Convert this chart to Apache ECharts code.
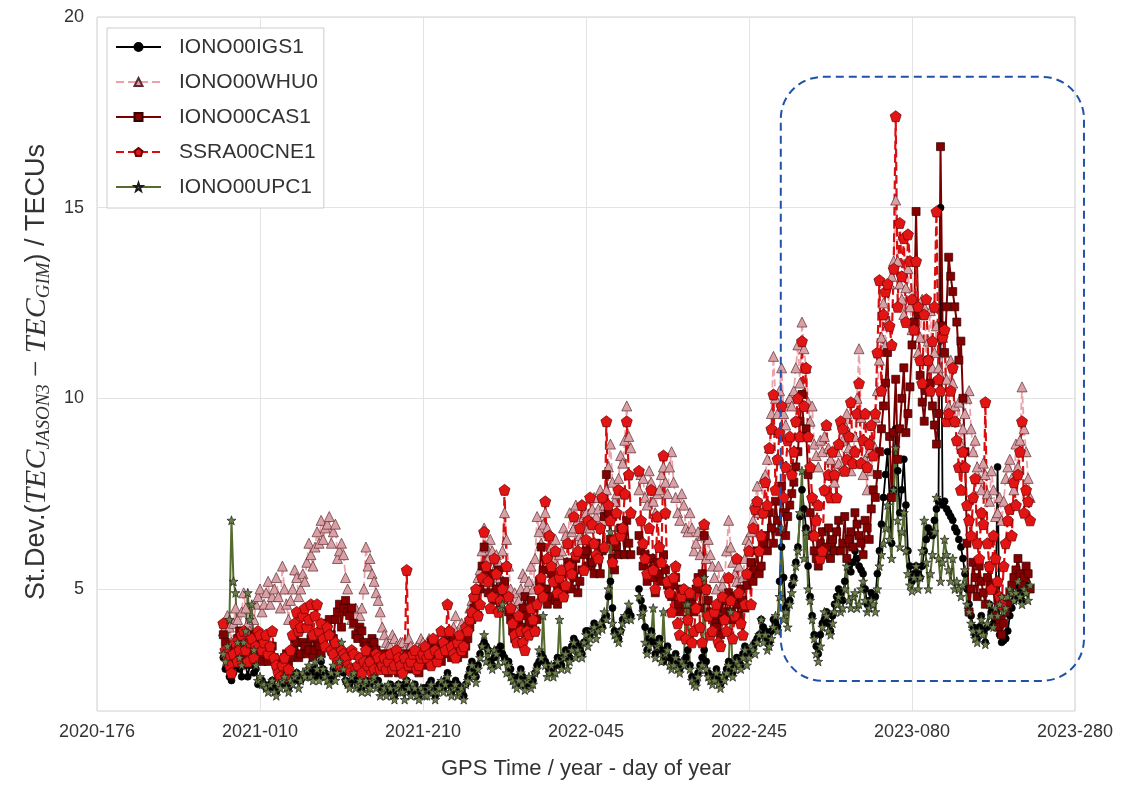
<!DOCTYPE html>
<html><head><meta charset="utf-8">
<script src="https://cdn.jsdelivr.net/npm/echarts@6/dist/echarts.min.js"></script>
<style>html,body{margin:0;padding:0;background:#fff}#c{width:1140px;height:785px}</style>
</head><body><div id="c"></div>
<script>
// ---- axis ticks ----
const xTickLabels = ['2020-176','2021-010','2021-210','2022-045','2022-245','2023-080','2023-280'];
const xTickStep = 200;           // days between x ticks (axis value = days after 2020-176)
const yTickValues = [5, 10, 15, 20];
// ---- sampling of the series (days after 2020-176) ----
const firstSampleDay = 155;      // 2020-331
const sampleStepDays = 5;        // main samples; the "Mid" arrays hold the samples 2.5 days later

const seriesNames = ['IONO00IGS1','IONO00WHU0','IONO00CAS1','SSRA00CNE1','IONO00UPC1'];

const igs1 = [
3.2,3.1,2.6,3.0,2.9,3.3,2.7,3.1,2.9,2.6, 2.5,2.4,2.6,2.3,2.5,2.7,2.4,2.6,2.8,2.6,
2.7,2.9,2.7,2.8,3.1,2.8,2.6,2.9,2.8,3.1, 2.6,2.5,2.7,2.5,2.4,2.6,2.5,2.7,2.6,2.4,
2.3,2.5,2.2,2.5,2.4,2.6,2.3,2.5,2.2,2.4, 2.3,2.6,2.2,2.5,2.4,2.8,2.3,2.6,2.4,2.2,
2.7,3.1,2.7,3.3,3.6,3.4,3.0,3.4,3.5,3.2, 3.1,2.7,2.5,2.9,2.45,2.6,2.6,3.0,3.3,3.1,
2.9,2.8,3.2,3.0,3.4,3.2,3.7,3.5,3.3,3.9, 3.8,4.1,3.95,4.0,4.3,5.2,3.9,3.7,4.2,4.3,
4.3,null,5.0,4.5,3.4,3.9,3.3,3.7,3.1,3.5, 3.0,3.3,2.9,3.1,3.4,2.7,2.55,3.0,3.4,2.8,
2.6,2.9,2.5,2.7,3.1,2.8,3.2,3.0,3.5,3.3, 3.5,3.7,4.2,3.9,3.6,4.2,4.0,6.1,4.5,4.7,
5.3,6.1,7.6,6.6,4.8,3.8,3.3,4.1,4.4,3.9, 4.6,5.0,4.7,5.8,5.45,6.0,5.6,5.4,4.6,4.9,
4.8,6.0,7.4,8.6,6.2,9.2,7.0,8.4,6.0,5.2, 5.6,5.3,6.0,6.6,6.4,7.1,15.0,7.3,7.0,6.8,
6.5,6.1,5.4,4.6,4.0,3.7,4.3,3.6,4.6,4.1, 8.2,3.6,3.7,4.3,4.7,5.1,4.7,5.1,5.0];
const igs1Mid = [
2.9,2.7,2.8,3.2,2.7,3.0,3.0,2.8,2.5,2.6, 2.4,2.5,2.4,2.4,2.6,2.5,2.5,2.7,2.6,2.7,
2.8,2.8,2.9,2.7,2.9,2.7,2.7,2.8,3.0,2.8, 2.5,2.6,2.6,2.4,2.5,2.5,2.6,2.6,2.4,2.3,
2.4,2.3,2.4,2.4,2.5,2.4,2.4,2.3,2.3,2.4, 2.5,2.4,2.4,2.5,2.6,2.5,2.5,2.5,2.3,2.5,
2.9,2.8,3.0,3.5,3.5,3.1,3.2,3.4,3.3,3.1, 2.9,2.6,2.7,2.7,2.5,2.6,2.8,3.1,3.2,3.0,
2.8,3.0,3.1,3.2,3.3,3.5,3.6,3.4,3.6,3.9, 3.9,4.0,4.0,4.2,4.8,4.5,3.8,3.9,4.2,4.4,
null,null,4.7,4.0,3.7,3.6,3.5,3.4,3.3,3.2, 3.1,3.1,3.0,3.2,3.0,2.6,2.8,3.2,3.1,2.7,
2.7,2.7,2.6,2.9,3.0,3.0,3.1,3.3,3.4,3.4, 3.6,3.8,4.0,3.7,3.9,4.1,5.2,5.3,4.6,5.1,
5.7,6.9,7.1,5.6,4.3,3.5,3.8,4.2,4.1,4.3, 4.8,4.9,5.2,5.6,5.7,5.8,5.5,5.0,4.7,4.8,
5.4,6.7,8.0,7.4,7.6,8.1,7.6,7.2,5.6,5.4, 5.4,5.6,6.3,6.5,6.8,7.3,7.2,7.1,6.9,6.6,
6.3,5.8,5.0,4.3,3.8,4.0,3.9,4.0,4.4,4.4, 3.8,3.65,3.9,4.5,4.8,4.9,4.9,5.0];

const whu0 = [
3.9,4.3,3.6,4.5,3.8,4.9,4.1,3.7,4.6,5.0, 4.6,5.2,4.8,5.3,4.5,5.0,4.2,5.0,5.3,5.0,
5.2,6.2,5.6,6.5,6.8,6.6,6.9,6.5,5.8,6.2, 5.3,4.5,4.1,3.9,4.5,6.1,5.8,5.2,4.7,4.0,
3.6,3.5,3.7,3.4,3.6,3.3,3.5,3.2,3.4,3.6, 3.4,3.6,3.3,3.8,3.5,3.9,3.6,4.3,3.8,3.7,
4.2,4.7,5.0,5.5,6.6,5.8,6.0,5.9,5.3,7.0, 5.6,4.6,4.4,5.0,5.3,5.2,5.0,6.9,6.2,7.0,
6.4,5.8,5.6,6.0,6.4,7.0,6.6,6.8,6.3,7.0, 6.6,7.4,7.1,6.8,7.6,8.8,7.3,7.9,8.3,9.8,
8.7,null,7.6,7.9,7.2,7.8,7.0,7.6,8.2,7.5, 8.6,7.4,6.8,7.2,6.5,6.6,6.2,5.9,6.7,6.3,
5.6,5.0,4.8,5.3,6.8,5.7,5.2,4.9,5.8,6.2, 6.8,7.7,7.2,8.0,8.7,11.1,9.6,10.8,9.3,10.0,
10.2,11.4,12.0,10.8,9.4,8.8,8.2,8.6,9.3,8.4, 7.8,8.3,8.9,9.6,8.1,9.0,11.3,8.0,7.6,8.1,
9.5,11.0,12.5,12.0,13.2,15.2,13.0,12.2,13.4,11.8, 12.2,11.6,12.4,11.5,10.8,11.9,10.6,11.2,9.8,10.4,
9.4,8.8,9.6,10.2,8.6,8.2,7.6,8.0,7.3,7.6, 7.0,6.8,7.9,8.4,7.6,8.2,10.3,8.6,7.4];
const whu0Mid = [
4.0,4.0,4.1,4.2,4.4,4.5,3.9,4.2,4.8,4.4, 4.9,4.6,5.0,4.8,5.6,4.6,4.7,5.5,4.8,5.4,
5.7,5.9,6.1,6.2,6.3,6.7,6.2,6.7,6.0,5.9, 5.0,4.2,4.5,4.3,5.0,5.6,5.4,4.9,4.4,3.8,
3.5,3.8,3.5,3.6,3.4,3.7,3.3,3.5,3.7,3.5, 3.7,3.4,3.6,3.6,3.8,3.5,4.0,3.6,4.1,4.0,
4.5,4.4,5.3,6.0,6.1,6.3,5.5,5.7,6.0,6.3, 5.0,4.9,4.7,5.4,5.0,5.6,5.8,6.5,6.7,6.6,
6.1,6.3,5.9,6.6,6.2,6.5,7.2,6.4,6.9,6.6, 7.1,6.9,7.6,7.2,8.2,7.8,7.5,8.5,8.9,9.0,
null,null,8.0,7.4,8.1,7.3,7.5,8.0,7.8,8.2, 7.8,7.0,7.5,6.6,7.0,6.0,6.5,6.4,5.8,5.9,
5.3,5.6,5.1,6.0,6.1,5.4,5.6,5.3,6.3,6.5, 7.3,7.0,7.9,8.4,9.6,10.0,10.2,9.6,9.9,9.8,
10.8,10.4,11.3,9.9,9.8,8.5,8.9,9.0,8.7,8.0, 8.6,8.1,9.3,8.7,8.6,10.0,9.5,8.4,8.6,8.8,
10.2,11.6,11.4,13.0,13.6,13.6,12.6,12.9,12.4,12.6, 11.2,12.6,11.0,12.3,11.2,10.8,11.6,10.5,11.0,9.8,
9.9,9.2,10.0,9.2,8.9,7.9,8.3,7.5,8.1,6.9, 7.4,7.3,8.2,7.9,8.8,8.9,9.2,7.9];

const cas1 = [
3.8,3.4,3.2,3.5,3.9,3.3,3.6,3.4,3.7,3.5, 3.3,3.1,3.5,3.0,2.9,3.2,3.0,3.4,3.6,3.3,
3.5,3.4,3.2,3.6,3.3,3.9,4.2,3.7,4.4,4.0, 4.7,4.3,4.1,3.7,3.9,3.5,3.3,3.6,3.2,3.0,
3.1,2.9,3.2,2.8,3.0,3.3,2.9,3.1,2.8,3.0, 3.2,3.6,3.1,3.4,3.3,3.8,3.2,3.5,3.4,3.3,
3.7,4.2,4.6,5.0,6.1,4.9,5.4,5.0,4.6,5.2, 4.4,3.9,3.6,4.0,4.8,4.1,4.5,4.2,6.1,5.0,
4.8,5.2,4.6,5.4,5.0,5.6,5.3,4.9,5.5,6.0, 6.2,5.4,5.8,6.0,8.0,6.3,5.5,5.9,6.4,6.8,
5.9,null,6.4,5.6,5.2,5.8,4.9,5.4,5.9,5.1, 4.8,5.3,4.4,4.9,4.2,4.6,5.0,4.5,6.4,4.7,
4.3,4.0,3.8,4.4,4.9,4.2,4.6,5.0,4.5,5.4, 5.2,6.0,5.6,6.4,7.0,6.2,6.8,7.7,6.4,7.2,
7.8,8.6,10.1,9.2,7.0,6.0,5.6,6.5,6.1,5.8, 6.0,6.8,6.2,5.8,6.5,7.0,6.4,5.9,6.6,7.1,
7.4,8.6,9.8,11.2,7.4,10.5,9.2,10.8,9.6,11.4, 14.9,10.6,9.4,11.0,9.8,8.8,16.6,11.2,13.7,12.8,
12.0,11.5,8.6,4.4,5.7,4.8,5.2,4.6,5.6,5.0, 4.0,3.8,4.4,4.9,5.3,5.8,5.1,5.6,5.0];
const cas1Mid = [
3.6,3.1,3.4,3.7,3.5,3.2,3.5,3.8,3.3,3.1, 3.5,3.3,3.2,2.8,3.1,3.3,3.2,3.7,3.2,3.6,
3.3,3.7,3.4,3.5,3.7,4.1,3.8,4.2,4.6,4.5, 4.4,4.5,3.8,4.0,3.6,3.4,3.7,3.4,3.1,3.3,
2.8,3.1,3.0,3.1,3.2,3.0,3.3,2.9,3.2,3.1, 3.4,3.3,3.5,3.1,3.6,3.4,3.7,3.2,3.6,3.5,
4.0,4.5,4.3,5.6,5.5,5.2,4.7,5.5,4.9,4.8, 4.2,3.7,4.2,4.5,4.3,4.7,3.9,5.2,5.5,4.6,
5.4,4.7,5.1,4.8,5.7,5.0,5.8,5.2,5.9,5.6, 5.7,6.2,5.4,6.9,7.0,5.8,6.1,6.6,5.9,6.2,
null,null,6.0,5.9,5.5,5.3,5.7,5.2,5.5,4.9, 5.1,4.6,5.0,4.6,4.8,4.4,5.3,5.4,5.0,4.4,
4.1,4.5,4.2,4.7,4.4,4.8,4.3,4.7,5.1,5.7, 5.5,5.4,6.2,6.0,6.6,7.3,6.5,7.0,6.9,7.5,
8.2,9.4,9.0,8.0,6.4,5.8,6.2,5.9,6.6,6.3, 6.5,6.0,6.9,6.3,6.1,6.7,6.2,6.8,6.3,7.6,
8.0,9.2,10.4,9.0,9.1,8.4,10.0,9.1,10.3,12.0, 12.2,9.9,10.2,10.4,9.3,9.6,11.9,12.4,13.2,12.4,
11.0,10.0,6.2,5.0,5.3,5.6,4.9,5.3,5.1,4.3, 4.2,4.1,4.6,5.1,5.5,5.4,5.3,5.4];

const cne1 = [
4.1,3.2,2.8,3.6,3.4,3.9,3.1,3.7,3.5,3.8, 3.6,3.3,3.9,3.0,2.7,3.2,2.9,3.8,4.4,4.0,
4.5,4.2,3.8,4.6,4.1,3.5,3.8,3.3,3.1,3.4, 3.2,2.9,3.3,3.0,2.8,3.4,3.1,2.9,3.2,3.0,
2.9,3.3,3.0,3.2,2.8,5.5,3.1,3.4,3.0,3.3, 3.2,3.0,3.4,3.3,3.6,4.6,3.5,3.2,3.8,3.5,
3.9,4.4,5.0,4.6,6.5,5.2,4.8,5.4,4.7,7.6, 4.8,4.1,3.6,3.9,3.4,3.8,4.2,4.6,5.3,7.3,
6.4,5.2,4.9,5.5,5.1,5.6,6.9,6.0,7.2,6.3, 7.4,6.2,5.8,7.4,9.4,6.8,6.3,7.6,6.6,9.4,
7.0,null,8.1,6.2,5.4,7.6,5.0,6.1,8.5,5.2, 4.4,5.6,3.8,5.0,4.2,3.6,4.5,4.0,6.7,4.3,
3.9,4.6,3.5,4.2,5.3,3.7,5.8,4.1,4.6,6.0, 6.6,7.3,6.4,7.8,8.7,10.1,8.4,9.8,8.2,9.0,
8.6,10.0,11.5,10.8,8.2,6.4,7.2,6.0,9.3,7.4, 8.0,8.8,9.2,8.4,9.9,8.6,10.4,8.9,8.2,9.3,
9.6,13.1,12.2,13.0,11.4,17.4,14.6,14.2,14.3,12.6, 13.6,11.0,12.2,11.0,11.5,14.9,10.2,11.8,9.6,10.8,
8.9,7.6,8.2,6.8,7.4,6.2,7.0,9.9,5.6,6.4, 5.2,4.6,6.2,7.1,7.8,8.0,9.4,7.6,6.8];
const cne1Mid = [
3.4,3.0,3.3,3.1,3.8,3.4,3.6,3.2,3.9,3.4, 3.8,3.5,3.2,2.8,3.0,2.7,3.4,4.1,3.9,4.3,
4.0,4.6,4.3,3.9,3.7,4.0,3.4,3.6,3.0,3.3, 3.0,3.4,2.9,3.2,3.1,3.0,2.8,3.3,2.9,3.2,
3.1,2.9,3.4,3.0,3.2,3.0,3.3,2.9,3.2,3.5, 3.3,3.7,3.1,3.9,3.4,3.9,3.3,3.6,3.4,4.0,
4.2,4.8,4.3,5.3,5.6,4.5,5.8,4.4,5.0,5.6, 4.5,3.8,4.3,3.6,3.9,4.5,3.9,5.0,4.8,5.8,
5.6,6.0,5.3,4.8,6.2,5.4,5.9,6.6,5.5,6.8, 6.7,5.9,6.6,6.1,7.2,5.7,7.0,6.4,7.5,8.0,
null,null,6.8,5.8,6.6,5.5,6.9,5.7,7.0,4.9, 5.3,4.1,4.8,3.7,4.9,3.9,5.2,3.6,5.0,3.8,
4.4,3.6,4.8,3.9,4.7,4.3,4.9,3.8,5.4,4.6, 7.1,6.0,7.0,7.2,9.2,7.6,9.1,7.4,8.9,8.0,
9.4,9.0,9.8,9.0,7.4,6.8,5.8,7.6,8.0,8.6, 7.4,9.4,8.1,9.0,8.3,9.6,8.3,9.6,8.8,8.5,
11.2,10.2,12.8,11.9,13.4,12.4,13.2,12.0,13.6,11.8, 12.4,10.4,12.6,10.2,12.4,10.5,11.6,9.4,10.2,9.4,
8.2,8.6,7.2,6.4,7.9,5.8,6.7,6.2,5.0,5.8, 4.8,5.6,6.8,6.4,7.2,8.6,7.0,7.3];

const upc1 = [
3.3,3.5,6.8,4.9,3.2,3.6,4.9,4.6,3.0,2.7, 2.5,2.3,2.6,2.2,2.4,2.7,2.3,2.5,2.8,2.6,
2.7,3.0,2.6,2.9,3.2,2.7,2.5,3.0,2.8,3.6, 2.6,2.4,2.8,2.5,2.3,2.6,2.4,2.7,2.5,2.3,
2.2,2.4,2.1,2.5,2.3,2.6,2.2,2.4,2.1,2.3, 2.2,2.5,2.1,2.4,2.3,2.7,2.2,2.5,2.3,2.1,
2.6,3.0,2.55,3.2,3.8,3.4,2.9,3.3,4.5,3.1, 3.0,2.6,2.4,2.8,2.35,2.7,2.5,2.9,3.2,3.0,
2.8,2.7,3.1,2.9,3.3,3.1,3.6,3.4,3.2,3.8, 3.7,4.0,3.9,3.95,4.2,6.5,3.8,3.6,4.1,4.2,
4.2,null,4.8,4.4,3.3,3.8,3.2,3.6,4.4,3.4, 2.9,3.2,2.8,3.0,4.6,2.6,2.45,2.9,5.3,2.7,
2.5,2.8,2.4,2.6,3.0,2.7,3.1,2.9,3.4,3.2, 3.4,3.6,4.2,3.8,3.5,4.0,3.9,6.6,4.4,4.6,
5.2,6.0,8.1,6.5,4.7,3.7,3.1,4.0,4.3,3.8, 4.4,4.8,4.5,5.6,4.5,4.9,4.6,5.2,4.4,4.7,
4.4,5.6,6.2,7.2,5.8,8.7,6.1,7.0,5.4,4.95, 5.6,5.3,6.8,5.0,5.9,7.4,5.2,6.3,5.5,5.8,
5.2,4.8,5.5,4.4,3.9,3.6,4.2,3.55,4.6,4.0, 4.3,4.8,4.5,5.0,4.7,5.2,4.6,4.9,5.1];
const upc1Mid = [
3.1,4.2,5.2,3.6,3.0,3.9,4.2,3.4,2.6,2.5, 2.4,2.5,2.3,2.5,2.6,2.4,2.6,2.7,2.4,2.8,
2.9,2.7,3.1,2.6,2.9,2.6,2.8,2.6,3.1,2.9, 2.5,2.7,2.4,2.6,2.5,2.3,2.6,2.4,2.2,2.4,
2.5,2.2,2.4,2.3,2.1,2.4,2.5,2.2,2.4,2.2, 2.4,2.3,2.3,2.6,2.5,2.3,2.4,2.2,2.4,2.5,
2.8,2.7,2.9,3.5,3.1,3.0,3.4,3.0,4.6,2.8, 2.7,2.5,2.6,2.5,2.6,2.4,2.8,3.4,4.3,2.7,
3.0,2.8,4.2,3.2,2.9,3.4,3.2,3.3,3.6,3.5, 3.9,3.7,4.1,4.4,5.0,4.1,3.7,3.9,4.3,4.6,
null,null,4.3,3.6,3.5,4.5,3.5,3.1,3.3,3.0, 3.0,2.9,3.1,4.6,2.9,2.5,2.7,3.0,2.9,2.6,
2.6,2.5,2.7,2.8,4.4,2.9,3.0,3.2,3.0,3.5, 3.3,3.8,3.6,3.4,3.7,4.3,4.8,4.2,4.0,4.9,
5.6,7.0,5.8,5.0,4.2,3.3,3.5,4.4,3.9,4.1, 4.6,4.4,5.0,4.7,4.8,4.5,5.0,4.7,4.5,4.6,
5.0,5.9,6.6,6.3,7.6,6.8,6.5,6.0,5.1,5.3, 5.0,6.0,5.7,5.4,6.5,5.8,5.7,5.9,5.2,5.0,
5.0,5.1,4.6,4.1,3.7,3.9,3.8,4.1,4.3,4.5, 4.6,4.4,4.8,4.9,4.9,4.8,5.0,4.7];

// highlighted period (data coordinates): days after 2020-176 and TECU values
const highlightBox = {fromDay: 839, toDay: 1211, low: 2.59, high: 18.43};

function pairs(main, mid){
  const out = [];
  main.forEach((v, i) => {
    out.push([firstSampleDay + i * sampleStepDays, v]);
    if (i < mid.length) out.push([firstSampleDay + i * sampleStepDays + sampleStepDays / 2, mid[i]]);
  });
  return out;
}

const PENTAGON = 'path://M0,-10L9.51,-3.09L5.88,8.09L-5.88,8.09L-9.51,-3.09Z';
const STAR = 'path://M0,-10L2.35,-3.24L9.51,-3.09L3.8,1.24L5.88,8.09L0,4L-5.88,8.09L-3.8,1.24L-9.51,-3.09L-2.35,-3.24Z';

const styles = [
  {main: igs1, mid: igs1Mid, line:'#000000', type:'solid', w:1.8, sym:'circle', size:7, fill:'#000000', border:'#000000'},
  {main: whu0, mid: whu0Mid, line:'#eca2aa', type:'dashed', w:1.8, sym:'triangle', size:10, fill:'#d9a0a6', border:'#5b2c30'},
  {main: cas1, mid: cas1Mid, line:'#7a0000', type:'solid', w:2, sym:'rect', size:8, fill:'#850000', border:'#330000'},
  {main: cne1, mid: cne1Mid, line:'#d90f0f', type:'dashed', w:2.2, sym:PENTAGON, size:11, fill:'#e31414', border:'#6a0000'},
  {main: upc1, mid: upc1Mid, line:'#556b2f', type:'solid', w:2, sym:STAR, size:9, fill:'#6d8046', border:'#1c1c1c'}
];

const chart = echarts.init(document.getElementById('c'), null, {renderer:'canvas'});
const FONT = 'Liberation Sans, Arial, sans-serif';
const SERIF = 'Liberation Serif, DejaVu Serif, serif';

chart.setOption({
  animation: false,
  backgroundColor: '#ffffff',
  grid: {left: 97, right: 65, top: 17, bottom: 73, show: true, borderColor: '#cfcfcf', borderWidth: 1, backgroundColor: '#ffffff'},
  legend: {
    orient: 'vertical', left: 107, top: 28,
    backgroundColor: '#ffffff', borderColor: '#cccccc', borderWidth: 1,
    padding: [8, 6, 10, 8], itemGap: 13, itemWidth: 45, itemHeight: 10,
    textStyle: {fontSize: 21, color: '#333333', fontFamily: FONT, padding: [0, 0, 0, 13], lineHeight: 22},
    data: seriesNames
  },
  xAxis: {
    type: 'value', min: 0, max: xTickStep * (xTickLabels.length - 1), interval: xTickStep,
    axisLine: {show: false}, axisTick: {show: false},
    splitLine: {show: true, lineStyle: {color: '#e3e3e3', width: 1}},
    axisLabel: {fontSize: 18, color: '#333333', fontFamily: FONT, margin: 12,
      formatter: v => xTickLabels[Math.round(v / xTickStep)] || ''},
    name: 'GPS Time / year - day of year', nameLocation: 'middle', nameGap: 47,
    nameTextStyle: {fontSize: 22, color: '#333333', fontFamily: FONT}
  },
  yAxis: {
    type: 'value', min: 1.8, max: 20,
    axisLine: {show: false},
    axisTick: {show: false, customValues: yTickValues},
    splitLine: {show: true, lineStyle: {color: '#e3e3e3', width: 1}},
    axisLabel: {customValues: yTickValues, fontSize: 18, color: '#333333', fontFamily: FONT, margin: 13},
    name: 'St.Dev.({m|TEC}{s|JASON3}{n| − }{m|TEC}{s|GIM}) / TECUs',
    nameLocation: 'middle', nameRotate: 90, nameGap: 44,
    nameTextStyle: {
      fontSize: 27, color: '#333333', fontFamily: FONT, lineHeight: 32, padding: [0, 16, 0, 0],
      rich: {
        m: {fontSize: 30, fontStyle: 'italic', fontFamily: SERIF, color: '#333333', lineHeight: 32, verticalAlign: 'middle'},
        s: {fontSize: 19, fontStyle: 'italic', fontFamily: SERIF, color: '#333333', lineHeight: 13, verticalAlign: 'bottom'},
        n: {fontSize: 29, fontFamily: SERIF, color: '#333333', lineHeight: 32, verticalAlign: 'middle'}
      }
    }
  },
  series: styles.map((s, k) => ({
    name: seriesNames[k], type: 'line', data: pairs(s.main, s.mid),
    connectNulls: false, showAllSymbol: true,
    symbol: s.sym, symbolSize: s.size,
    lineStyle: {color: s.line, width: s.w, type: s.type},
    itemStyle: {color: s.fill, borderColor: s.border, borderWidth: 0.7},
    emphasis: {disabled: true}
  }))
});

function drawBox(){
  const p1 = chart.convertToPixel({gridIndex: 0}, [highlightBox.fromDay, highlightBox.high]);
  const p2 = chart.convertToPixel({gridIndex: 0}, [highlightBox.toDay, highlightBox.low]);
  chart.setOption({graphic: [{
    type: 'rect', z: 100,
    shape: {x: p1[0], y: p1[1], width: p2[0] - p1[0], height: p2[1] - p1[1], r: 42},
    style: {fill: 'none', stroke: '#1f52a8', lineWidth: 2, lineDash: [8, 5]}
  }]});
}
drawBox();
</script></body></html>
